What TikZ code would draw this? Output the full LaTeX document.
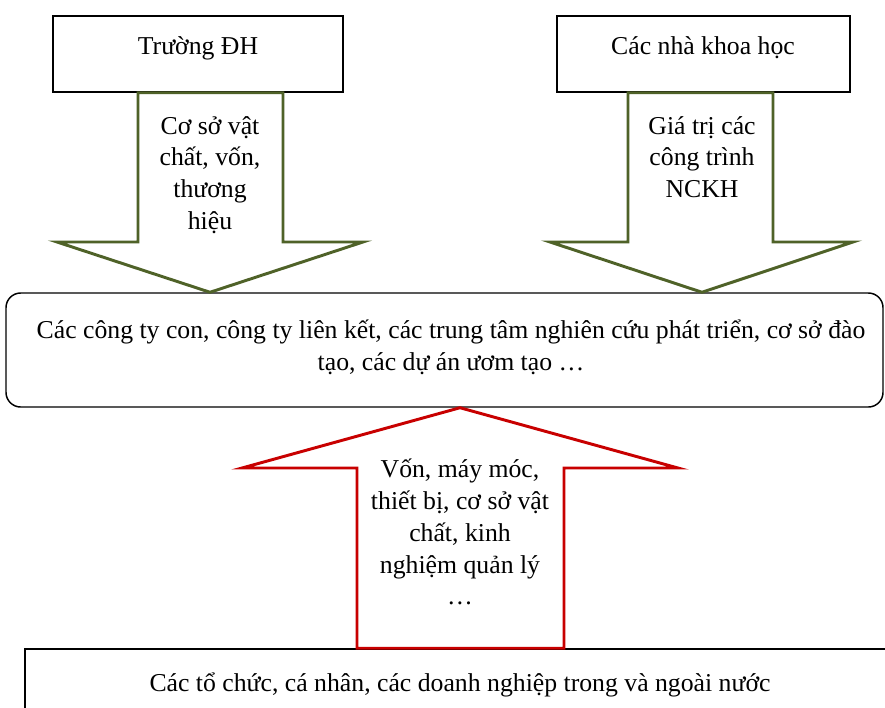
\documentclass[tikz,border=0pt]{standalone}
\usepackage{fontspec}
\setmainfont{Liberation Serif}
\definecolor{arrowgreen}{HTML}{4F6228}
\definecolor{arrowred}{HTML}{C80000}
\begin{document}
\begin{tikzpicture}[x=0.75pt,y=-0.75pt,
  boxstyle/.style={draw=black, line width=1.1pt, fill=white, inner sep=0pt},
  txt/.style={align=center, inner sep=0pt, font=\fontsize{19.3}{23.8}\selectfont},
  greenarrow/.style={draw=arrowgreen, line width=2.2pt, fill=white, line join=miter, miter limit=20},
  redarrow/.style={draw=arrowred, line width=2.2pt, fill=white, line join=miter, miter limit=20}]
\clip (0,0) rectangle (885,707);
\fill[white] (0,0) rectangle (885,707);
% boxes
\node[boxstyle, minimum width=217.5pt, minimum height=57pt] (truong) at (198,54) {};
\node[boxstyle, minimum width=219.75pt, minimum height=57pt] (nhakh) at (703.5,54) {};
\node[boxstyle, rounded corners=11pt, minimum width=657.75pt, minimum height=85.5pt] (mid) at (444.5,350) {};
\node[boxstyle, minimum width=690pt, minimum height=53.25pt] (bot) at (485,684.5) {};
% green arrows
\draw[greenarrow] (138,0 |- truong.south) -- (283,0 |- truong.south) -- (283,242) -- (363,242)
  -- (210,0 |- mid.north) -- (57,242) -- (138,242) -- cycle;
\draw[greenarrow] (628,0 |- nhakh.south) -- (773,0 |- nhakh.south) -- (773,242) -- (853,242)
  -- (702,0 |- mid.north) -- (550,242) -- (628,242) -- cycle;
% red arrow
\draw[redarrow] (357,0 |- bot.north) -- (564,0 |- bot.north) -- (564,468) -- (678,468)
  -- (460,0 |- mid.south) -- (242,468) -- (357,468) -- cycle;
% texts
\node[txt] (truongtxt) at (198,48) {Trường ĐH};
\node[txt] (nhakhtxt) at (703,48) {Các nhà khoa học};
\node[txt, anchor=north] (gtxt1) at (210,116) {Cơ sở vật\\chất, vốn,\\thương\\hiệu};
\node[txt, anchor=north] (gtxt2) at (702,116) {Giá trị các\\công trình\\NCKH};
\node[txt, anchor=north] (midtxt) at (451,320) {Các công ty con, công ty liên kết, các trung tâm nghiên cứu phát triển, cơ sở đào\\tạo, các dự án ươm tạo …};
\node[txt, anchor=north] (rtxt) at (460,459) {Vốn, máy móc,\\thiết bị, cơ sở vật\\chất, kinh\\nghiệm quản lý\\…};
\node[txt] (bottxt) at (460,685) {Các tổ chức, cá nhân, các doanh nghiệp trong và ngoài nước};
\end{tikzpicture}
\end{document}
